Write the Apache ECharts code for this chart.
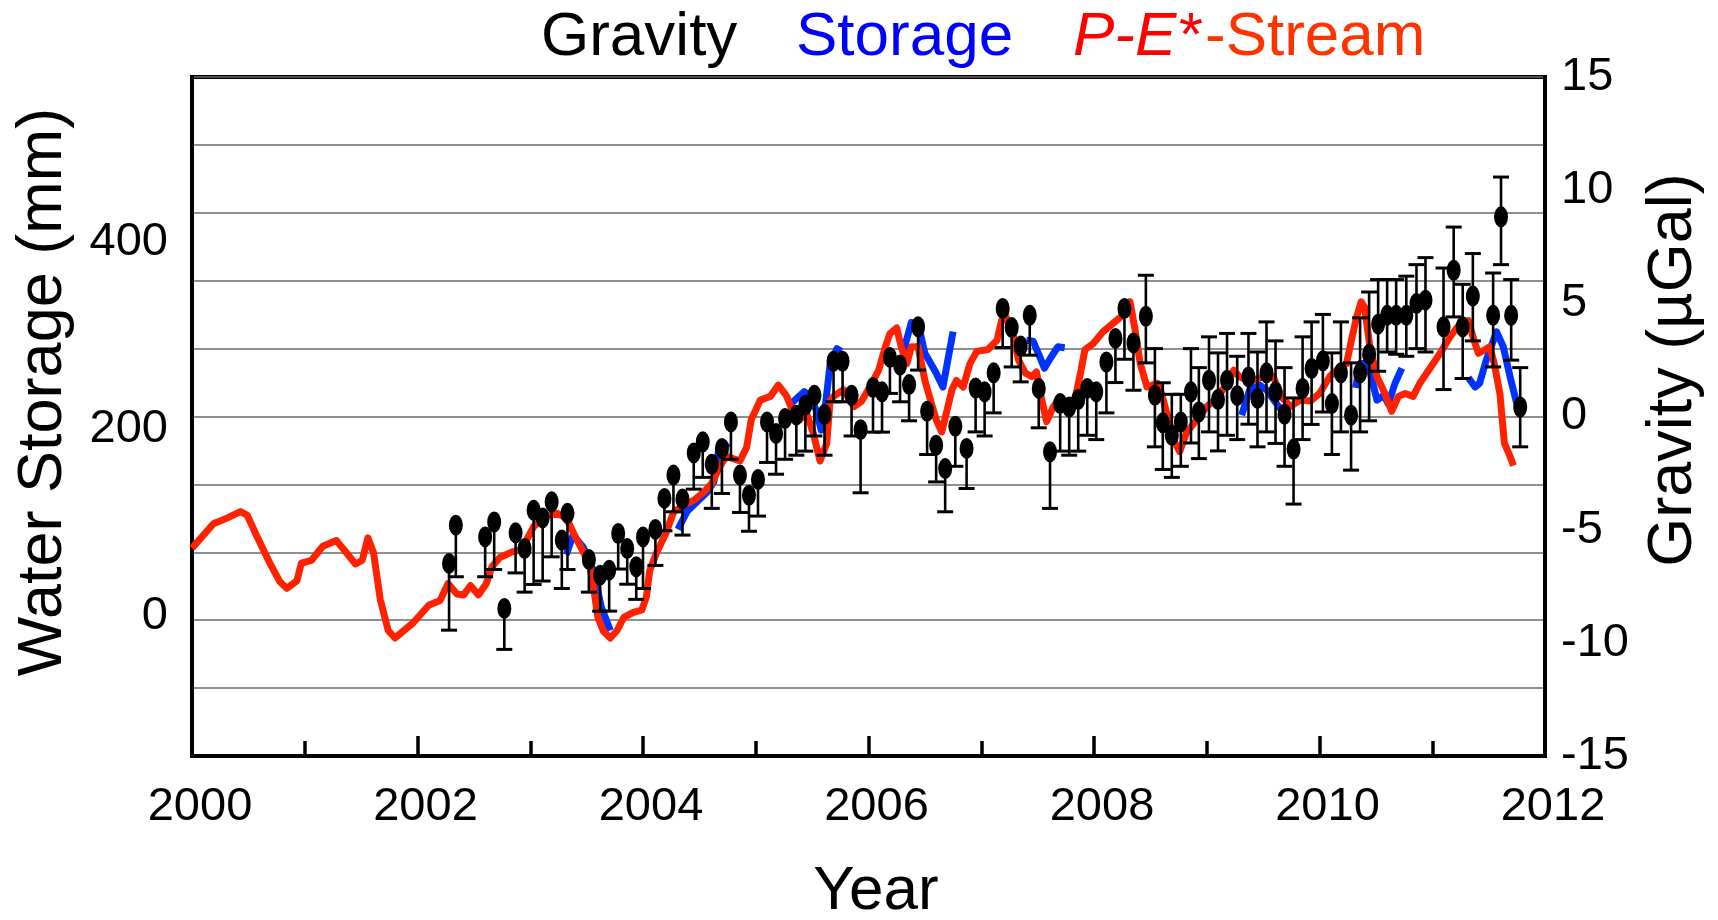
<!DOCTYPE html>
<html>
<head>
<meta charset="utf-8">
<script src="https://cdn.jsdelivr.net/npm/echarts@6/dist/echarts.min.js"></script>
<style>
  html, body { margin: 0; padding: 0; background: #fff; }
  #chart { width: 1718px; height: 920px; }
</style>
</head>
<body>
<div id="chart"></div>
<script>
// P-E*-Stream (mm, left axis)
const pesYears = [
  2000.00, 2000.19, 2000.31, 2000.43, 2000.49, 2000.57, 2000.69, 2000.78, 2000.84, 2000.93,
  2000.97, 2001.06, 2001.16, 2001.28, 2001.37, 2001.45, 2001.51, 2001.56, 2001.61, 2001.67,
  2001.74, 2001.80, 2001.96, 2002.10, 2002.20, 2002.27, 2002.35, 2002.41, 2002.47, 2002.54,
  2002.61, 2002.66, 2002.73, 2002.84, 2002.91, 2002.97, 2003.03, 2003.15, 2003.24, 2003.32,
  2003.40, 2003.47, 2003.53, 2003.57, 2003.60, 2003.65, 2003.71, 2003.77, 2003.83, 2003.91,
  2003.99, 2004.03, 2004.06, 2004.12, 2004.20, 2004.27, 2004.36, 2004.45, 2004.54, 2004.61,
  2004.68, 2004.74, 2004.86, 2004.92, 2004.96, 2005.04, 2005.13, 2005.20, 2005.27, 2005.33,
  2005.39, 2005.45, 2005.51, 2005.57, 2005.63, 2005.66, 2005.70, 2005.78, 2005.87, 2005.94,
  2006.03, 2006.09, 2006.15, 2006.19, 2006.25, 2006.29, 2006.34, 2006.38, 2006.44, 2006.50,
  2006.55, 2006.60, 2006.65, 2006.69, 2006.74, 2006.78, 2006.84, 2006.90, 2006.96, 2007.06,
  2007.14, 2007.18, 2007.22, 2007.28, 2007.33, 2007.39, 2007.45, 2007.49, 2007.53, 2007.58,
  2007.64, 2007.70, 2007.76, 2007.83, 2007.88, 2007.92, 2007.99, 2008.08, 2008.17, 2008.26,
  2008.32, 2008.36, 2008.41, 2008.47, 2008.56, 2008.60, 2008.66, 2008.72, 2008.76, 2008.82,
  2008.91, 2009.00, 2009.09, 2009.18, 2009.24, 2009.29, 2009.37, 2009.41, 2009.50, 2009.59,
  2009.66, 2009.74, 2009.83, 2009.92, 2010.00, 2010.09, 2010.18, 2010.24, 2010.29, 2010.33,
  2010.37, 2010.40, 2010.45, 2010.51, 2010.58, 2010.64, 2010.70, 2010.76, 2010.83, 2010.89,
  2010.98, 2011.07, 2011.16, 2011.25, 2011.32, 2011.37, 2011.41, 2011.47, 2011.51, 2011.55,
  2011.60, 2011.64, 2011.69, 2011.72
];
const pesValues = [
  73, 99, 105, 112, 108, 87, 57, 37, 30, 38,
  57, 60, 75, 81, 68, 56, 60, 84, 68, 18,
  -15, -23, -7, 12, 17, 35, 24, 23, 33, 23,
  35, 53, 63, 69, 71, 82, 96, 108, 110, 105,
  85, 69, 53, 24, -1, -16, -23, -15, -1, 4,
  7, 21, 49, 68, 88, 111, 119, 124, 133, 142,
  160, 171, 166, 181, 210, 231, 235, 247, 236, 219,
  210, 217, 196, 166, 185, 231, 236, 242, 224, 230,
  249, 263, 288, 302, 308, 288, 270, 288, 288, 252,
  231, 210, 197, 217, 242, 252, 245, 270, 283, 285,
  295, 316, 320, 302, 274, 260, 256, 261, 235, 208,
  224, 233, 227, 231, 260, 285, 291, 304, 313, 322,
  336, 309, 270, 245, 249, 238, 210, 185, 176, 196,
  210, 224, 233, 249, 263, 256, 252, 252, 256, 256,
  235, 224, 231, 230, 238, 256, 266, 270, 299, 320,
  336, 330, 285, 256, 238, 219, 235, 238, 235, 249,
  265, 281, 299, 313, 316, 295, 281, 285, 288, 270,
  238, 185, 171, 161
];

// Storage (mm, left axis); null breaks the line between segments
const storageYears = [
  2003.32, 2003.38, 2003.47, 2003.56, 2003.63, 2003.71, 2003.72,
  2004.31, 2004.39, 2004.57, 2004.63, 2004.67, 2004.76, 2004.77,
  2005.30, 2005.43, 2005.48, 2005.54, 2005.58, 2005.61, 2005.66, 2005.72, 2005.76, 2005.77,
  2006.31, 2006.38, 2006.44, 2006.50, 2006.60, 2006.66, 2006.75, 2006.76,
  2007.40, 2007.46, 2007.52, 2007.56, 2007.62, 2007.68, 2007.74, 2007.75,
  2009.31, 2009.38, 2009.47, 2009.53, 2009.62, 2009.71, 2009.72,
  2010.32, 2010.36, 2010.43, 2010.51, 2010.57, 2010.61, 2010.67, 2010.73, 2010.74,
  2011.32, 2011.38, 2011.42, 2011.48, 2011.57, 2011.63, 2011.69, 2011.75
];
const storageValues = [
  66, 87, 74, 49, 10, -15, null,
  93, 112, 133, 144, 177, 185, null,
  226, 240, 236, 219, 199, 217, 270, 286, 283, null,
  283, 314, 313, 281, 260, 245, 304, null,
  295, 294, 277, 265, 277, 288, 287, null,
  215, 242, 247, 242, 227, 213, null,
  244, 270, 270, 231, 236, 227, 249, 265, null,
  255, 245, 249, 274, 304, 288, 256, 227
];

// Gravity (µGal, right axis) with error bar ends; null = no upper bar
const gravYears = [
  2002.28, 2002.34, 2002.60, 2002.68, 2002.77, 2002.87, 2002.95, 2003.03, 2003.11, 2003.19,
  2003.28, 2003.33, 2003.52, 2003.62, 2003.70, 2003.78, 2003.86, 2003.94, 2004.00, 2004.11,
  2004.19, 2004.27, 2004.35, 2004.45, 2004.53, 2004.61, 2004.70, 2004.78, 2004.86, 2004.94,
  2005.02, 2005.10, 2005.18, 2005.26, 2005.36, 2005.44, 2005.52, 2005.61, 2005.69, 2005.77,
  2005.85, 2005.93, 2006.04, 2006.12, 2006.19, 2006.28, 2006.36, 2006.44, 2006.52, 2006.60,
  2006.68, 2006.77, 2006.87, 2006.95, 2007.03, 2007.11, 2007.19, 2007.27, 2007.35, 2007.43,
  2007.51, 2007.61, 2007.70, 2007.78, 2007.86, 2007.94, 2008.02, 2008.11, 2008.19, 2008.27,
  2008.35, 2008.46, 2008.54, 2008.61, 2008.69, 2008.77, 2008.86, 2008.93, 2009.02, 2009.10,
  2009.18, 2009.27, 2009.37, 2009.45, 2009.53, 2009.61, 2009.69, 2009.77, 2009.85, 2009.93,
  2010.03, 2010.11, 2010.19, 2010.28, 2010.36, 2010.44, 2010.52, 2010.60, 2010.68, 2010.77,
  2010.86, 2010.94, 2011.10, 2011.19, 2011.27, 2011.36, 2011.54, 2011.61, 2011.70, 2011.78
];
const gravValues = [
  -6.49, -4.80, -5.32, -4.66, -8.48, -5.14, -5.83, -4.14, -4.48, -3.77,
  -5.46, -4.28, -6.32, -7.01, -6.79, -5.17, -5.83, -6.64, -5.32, -4.99,
  -3.62, -2.59, -3.65, -1.61, -1.12, -2.11, -1.41, -0.24, -2.59, -3.48,
  -2.78, -0.24, -0.75, -0.09, 0.06, 0.50, 0.94, 0.09, 2.44, 2.44,
  0.94, -0.58, 1.28, 1.09, 2.61, 2.27, 1.41, 3.96, 0.23, -1.27,
  -2.30, -0.43, -1.41, 1.26, 1.09, 1.93, 4.77, 3.93, 3.11, 4.47,
  1.24, -1.56, 0.57, 0.42, 0.75, 1.24, 1.09, 2.41, 3.45, 4.77,
  3.25, 4.43, 0.94, -0.28, -0.83, -0.24, 1.09, 0.20, 1.60, 0.75,
  1.60, 0.92, 1.75, 0.80, 1.93, 1.09, 0.10, -1.44, 1.24, 2.12,
  2.46, 0.57, 1.93, 0.06, 1.93, 2.75, 4.08, 4.47, 4.47, 4.47,
  4.99, 5.14, 3.96, 6.46, 3.96, 5.32, 4.47, 8.82, 4.47, 0.42
];
const gravLow = [
  -9.44, -7.08, -7.08, -6.76, -10.29, -6.91, -7.76, -7.42, -7.27, -6.20,
  -7.60, -6.76, -7.76, -8.60, -8.60, -6.74, -7.41, -8.08, -7.60, -6.58,
  -5.05, -4.21, -5.24, -3.21, -2.69, -4.06, -3.40, -1.89, -4.24, -5.07,
  -4.40, -2.03, -2.55, -1.89, -1.71, -1.53, -0.86, -1.71, 0.65, 0.65,
  -0.86, -3.37, -0.69, -0.69, 1.02, 0.65, -0.19, 2.05, -1.68, -2.89,
  -4.21, -2.20, -3.18, -0.68, -0.86, 0.16, 3.05, 2.19, 1.53, 2.71,
  -0.50, -4.06, -1.53, -1.71, -1.53, -0.83, -1.02, 0.16, 1.50, 2.53,
  1.16, 2.37, -1.34, -2.34, -2.69, -2.20, -1.17, -1.86, -0.68, -1.52,
  -0.83, -1.02, -0.34, -1.34, -0.68, -1.19, -2.20, -3.87, -1.02, -0.35,
  0.20, -1.68, -0.68, -2.37, -0.68, -0.19, 2.00, 2.85, 2.75, 2.66,
  3.00, 2.85, 1.19, 4.40, 1.68, 3.34, 2.19, 6.71, 2.49, -1.34
];
const gravHigh = [
  null, null, null, null, null, null, null, null, null, null,
  null, null, null, null, null, null, null, null, null, null,
  null, null, null, null, null, null, null, null, null, null,
  null, null, null, null, null, null, null, null, null, null,
  null, null, null, null, null, null, null, null, null, null,
  null, null, null, null, null, null, null, null, null, null,
  null, null, null, null, null, null, null, null, null, null,
  null, 6.24, 3.00, 1.49, 0.98, 0.98, 3.00, 2.16, 3.52, 2.81,
  3.67, 2.66, 3.67, 2.85, 4.18, 3.34, 2.16, 0.82, 3.52, 4.18,
  4.51, 2.81, 4.18, 2.37, 4.36, 5.50, 6.05, 6.05, 6.05, 6.20,
  6.71, 7.02, 6.56, 8.37, 5.84, 7.20, 6.34, 10.58, 6.05, 2.16
];

const waterTicks = [0, 200, 400];

const FONT = '"Liberation Sans", Arial, sans-serif';

let pesData = pesYears.map((x, i) => [x, pesValues[i]]);
let storageData = storageYears.map((x, i) => [x, storageValues[i] == null ? '-' : storageValues[i]]);
let gravData = gravYears.map((x, i) => [x, gravValues[i]]);
let barData = gravYears.map((x, i) => [x, gravValues[i], gravLow[i], gravHigh[i] == null ? gravValues[i] : gravHigh[i]]);

function renderBar(params, api) {
  let x = api.value(0);
  let y = api.value(1);
  let lo = api.value(2);
  let hi = api.value(3);
  let pLo = api.coord([x, lo]);
  let pHi = api.coord([x, hi]);
  let half = 8;
  let style = { stroke: '#000', lineWidth: 3 };
  let children = [{
    type: 'line',
    shape: { x1: pLo[0], y1: pLo[1], x2: pHi[0], y2: pHi[1] },
    style: { stroke: '#000', lineWidth: 2.6 }
  }, {
    type: 'line',
    shape: { x1: pLo[0] - half, y1: pLo[1], x2: pLo[0] + half, y2: pLo[1] },
    style: style
  }];
  if (hi !== y) {
    children.push({
      type: 'line',
      shape: { x1: pHi[0] - half, y1: pHi[1], x2: pHi[0] + half, y2: pHi[1] },
      style: style
    });
  }
  return { type: 'group', children: children };
}

function txt(text, x, y, font, color, align) {
  return {
    type: 'text',
    x: x,
    y: y,
    style: {
      text: text,
      font: font,
      fill: color,
      align: align || 'left',
      verticalAlign: 'middle',
      textAlign: align || 'left',
      textVerticalAlign: 'middle'
    }
  };
}

let chart = echarts.init(document.getElementById('chart'));

let yName = txt('Water Storage (mm)', 44, 392, '63px ' + FONT, '#000', 'center');
yName.rotation = Math.PI / 2;
let y2Name = txt('Gravity (µGal)', 1674, 370, '63px ' + FONT, '#000', 'center');
y2Name.rotation = Math.PI / 2;

chart.setOption({
  animation: false,
  backgroundColor: '#fff',
  textStyle: { fontFamily: FONT },
  grid: {
    left: 192,
    right: 173,
    top: 77,
    bottom: 164,
    show: true,
    borderColor: '#000',
    borderWidth: 4
  },
  graphic: [
    txt('Gravity', 541, 38, '62px ' + FONT, '#000'),
    txt('Storage', 796, 38, '62px ' + FONT, '#0000ff'),
    txt('P-E*', 1073, 38, 'italic 62px ' + FONT, '#ff0000'),
    txt('-Stream', 1205, 38, '62px ' + FONT, '#ff3300'),
    txt('Year', 876, 892, '62px ' + FONT, '#000', 'center'),
    yName,
    y2Name
  ],
  xAxis: {
    type: 'value',
    min: 2000,
    max: 2012,
    interval: 2,
    axisLine: { onZero: false, lineStyle: { color: '#000', width: 4 } },
    axisTick: { inside: true, length: 20, lineStyle: { color: '#000', width: 3.5 } },
    minorTick: { show: true, splitNumber: 2, length: 15, lineStyle: { color: '#000', width: 3.5 } },
    splitLine: { show: false },
    axisLabel: {
      fontSize: 47,
      color: '#000',
      margin: 28,
      padding: [0, 0, 0, 16],
      formatter: v => String(v)
    }
  },
  yAxis: [{
    type: 'value',
    position: 'left',
    min: -149,
    max: 576,
    axisLine: { show: true, onZero: false, lineStyle: { color: '#000', width: 4 } },
    axisTick: { show: false },
    splitLine: { show: false },
    axisLabel: {
      fontSize: 47,
      color: '#000',
      margin: 24,
      formatter: v => waterTicks.indexOf(Math.round(v)) >= 0 && Math.abs(v - Math.round(v)) < 1e-6 ? String(Math.round(v)) : ''
    }
  }, {
    type: 'value',
    position: 'right',
    min: -15,
    max: 15,
    interval: 5,
    axisLine: { show: true, onZero: false, lineStyle: { color: '#000', width: 4 } },
    axisTick: { show: false },
    splitLine: { show: false },
    axisLabel: {
      fontSize: 47,
      color: '#000',
      margin: 16,
      formatter: v => String(v)
    }
  }, {
    // grid lines every 3 µGal
    type: 'value',
    position: 'right',
    min: -15,
    max: 15,
    interval: 3,
    axisLine: { show: false },
    axisTick: { show: false },
    axisLabel: { show: false },
    splitLine: { show: true, lineStyle: { color: '#6a6a6a', width: 1.5 } }
  }],
  series: [{
    name: 'Storage',
    type: 'line',
    yAxisIndex: 0,
    data: storageData,
    showSymbol: false,
    symbol: 'none',
    connectNulls: false,
    lineStyle: { color: '#0033ff', width: 7, join: 'round' },
    z: 2
  }, {
    name: 'P-E*-Stream',
    type: 'line',
    yAxisIndex: 0,
    data: pesData,
    showSymbol: false,
    symbol: 'none',
    lineStyle: { color: '#ff2200', width: 7, join: 'round' },
    z: 3
  }, {
    name: 'Gravity error',
    type: 'custom',
    yAxisIndex: 1,
    data: barData,
    encode: { x: 0, y: [1, 2, 3] },
    renderItem: renderBar,
    z: 4
  }, {
    name: 'Gravity',
    type: 'scatter',
    yAxisIndex: 1,
    data: gravData,
    symbol: 'circle',
    symbolSize: [14, 21],
    itemStyle: { color: '#000', opacity: 1 },
    z: 5
  }]
});
</script>
</body>
</html>
